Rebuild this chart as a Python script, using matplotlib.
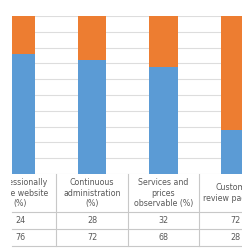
import matplotlib.pyplot as plt
import numpy as np
from matplotlib.lines import Line2D
from matplotlib.patches import Rectangle
from matplotlib.transforms import blended_transform_factory

categories = ["Professionally\nmade website\n(%)", "Continuous\nadministration\n(%)",
              "Services and\nprices\nobservable (%)", "Customer\nreview page (%)"]
row_top = [24, 28, 32, 72]      # orange, upper segment (first table row)
row_bottom = [76, 72, 68, 28]   # blue, lower segment (second table row)

blue = "#5B9BD5"
orange = "#ED7D31"
text_col = "#595959"
line_col = "#C8C8C8"

W, H = 242, 250
fig = plt.figure(figsize=(W / 100, H / 100), dpi=100)
ax = fig.add_axes([12 / W, (H - 174) / H, (W - 12) / W, 158 / H])

x = np.arange(len(categories))
step = 71.5
ax.set_xlim(-(20.5 - 12) / step, (W - 20.5) / step)
ax.set_ylim(0, 100)

ax.bar(x, row_bottom, width=0.40, color=blue, zorder=2)
ax.bar(x, row_top, bottom=row_bottom, width=0.40, color=orange, zorder=2)

ax.set_yticks(np.arange(0, 101, 10))
ax.grid(axis="y", color="#DDDDDD", linewidth=0.8, zorder=0)
ax.tick_params(left=False, bottom=False, labelleft=False, labelbottom=False)
for s in ax.spines.values():
    s.set_visible(False)

# data table under the plot
tr = blended_transform_factory(ax.transData, fig.transFigure)
fy = lambda py: (H - py) / H
for i, lab in enumerate(categories):
    ax.text(i, fy(193), lab, transform=tr, ha="center", va="center",
            fontsize=5.7, color=text_col, linespacing=1.2, clip_on=False)
    ax.text(i, fy(220.5), str(row_top[i]), transform=tr, ha="center", va="center",
            fontsize=5.8, color=text_col, clip_on=False)
    ax.text(i, fy(237.5), str(row_bottom[i]), transform=tr, ha="center", va="center",
            fontsize=5.8, color=text_col, clip_on=False)

for py in [212, 229, 246]:
    fig.add_artist(Line2D([12 / W, 1], [fy(py), fy(py)], color=line_col, linewidth=0.8))
for i in range(len(categories) - 1):
    xb = 20.5 + step * (i + 0.5)
    fig.add_artist(Line2D([xb / W, xb / W], [fy(174), fy(246)], color=line_col, linewidth=0.8))

# the source image is cropped on the left: blank strip
fig.add_artist(Rectangle((0, 0), 11 / W, 1, transform=fig.transFigure,
                         facecolor="white", edgecolor="none", zorder=10))

fig.savefig("out.png", dpi=100, facecolor="white")
